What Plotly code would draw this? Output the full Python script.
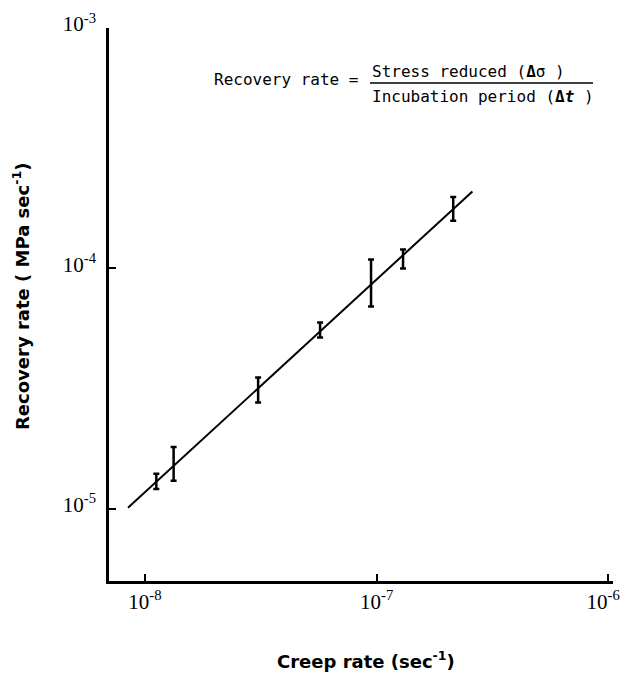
import numpy as np
import plotly.graph_objects as go

# Data
creep_rate = [1.12e-8, 1.33e-8, 3.08e-8, 5.70e-8, 9.46e-8, 1.30e-7, 2.14e-7]
recovery_hi = [1.40e-5, 1.81e-5, 3.52e-5, 5.96e-5, 1.09e-4, 1.20e-4, 1.98e-4]
recovery_lo = [1.21e-5, 1.31e-5, 2.77e-5, 5.16e-5, 6.95e-5, 1.00e-4, 1.58e-4]
fit_x = [8.45e-9, 2.59e-7]
fit_y = [1.01e-5, 2.09e-4]

x_ticks = [1e-8, 1e-7, 1e-6]
x_ticktext = ["10<sup>-8</sup>", "10<sup>-7</sup>", "10<sup>-6</sup>&nbsp;&nbsp;"]
y_ticks = [1e-5, 1e-4, 1e-3]
y_ticktext = ["10<sup>-5</sup>", "10<sup>-4</sup>", "10<sup>-3</sup>"]

hi = np.array(recovery_hi)
lo = np.array(recovery_lo)
mid = np.sqrt(hi * lo)

fig = go.Figure()
fig.add_trace(go.Scatter(x=fit_x, y=fit_y, mode="lines",
                         line=dict(color="black", width=2), showlegend=False))
fig.add_trace(go.Scatter(
    x=creep_rate, y=mid, mode="markers",
    marker=dict(size=1, color="rgba(0,0,0,0)"),
    error_y=dict(type="data", symmetric=False, array=hi - mid, arrayminus=mid - lo,
                 color="black", thickness=2.5, width=3),
    showlegend=False))

# page offset (body margin) = 8px
OFF = 8
W, H = 615, 664
L, R, T, B = 109, 613, 28, 581   # plot-area edges in page pixels

def px(x):
    return (x - L) / (R - L)

def py(y):
    return (B - y) / (B - T)

tickfont = dict(family="Liberation Serif", size=21, color="black")
fig.update_xaxes(type="log", range=[-8.155, -5.98], showline=True, linecolor="black",
                 linewidth=2.5, ticks="inside", ticklen=7, tickwidth=2, tickcolor="black",
                 tickvals=x_ticks, ticktext=x_ticktext, tickfont=tickfont,
                 ticklabeloverflow="allow",
                 showgrid=False, zeroline=False, mirror=False, automargin=False)
fig.update_yaxes(type="log", range=[-5.30, -3.0], showline=True, linecolor="black",
                 linewidth=2.5, ticks="inside", ticklen=7, tickwidth=2, tickcolor="black",
                 tickvals=y_ticks, ticktext=y_ticktext, tickfont=tickfont,
                 ticklabelstandoff=6, ticklabelshift=-4, ticklabeloverflow="allow",
                 showgrid=False, zeroline=False, mirror=False, automargin=False)

titlefont = dict(family="DejaVu Sans", size=18, color="black")
annfont = dict(family="DejaVu Sans Mono", size=16, color="black")

fig.update_layout(
    width=W, height=H,
    margin=dict(l=L - OFF, r=W + OFF - R, t=T - OFF, b=H + OFF - B, autoexpand=False),
    paper_bgcolor="white", plot_bgcolor="white",
    annotations=[
        dict(text="<b>Creep rate (sec<sup>-1</sup>)</b>", xref="paper", yref="paper",
             x=px(366), y=py(660), showarrow=False, font=titlefont,
             xanchor="center", yanchor="middle"),
        dict(text="<b>Recovery rate ( MPa sec<sup>-1</sup>)</b>", xref="paper", yref="paper",
             x=px(21), y=py(297), showarrow=False, font=titlefont, textangle=-90,
             xanchor="center", yanchor="middle"),
        dict(text="Recovery rate =", xref="paper", yref="paper",
             x=px(212), y=py(79), showarrow=False, font=annfont,
             xanchor="left", yanchor="middle"),
        dict(text="Stress reduced (<b>Δ</b>σ )", xref="paper", yref="paper",
             x=px(370), y=py(71), showarrow=False, font=annfont,
             xanchor="left", yanchor="middle"),
        dict(text="Incubation period (<b>Δ<i>t</i></b> )", xref="paper", yref="paper",
             x=px(370), y=py(96), showarrow=False, font=annfont,
             xanchor="left", yanchor="middle"),
    ],
    shapes=[
        dict(type="line", xref="paper", yref="paper", x0=px(370), x1=px(593),
             y0=py(83), y1=py(83), line=dict(color="black", width=1.5)),
    ],
)

fig.write_html("out.html")
